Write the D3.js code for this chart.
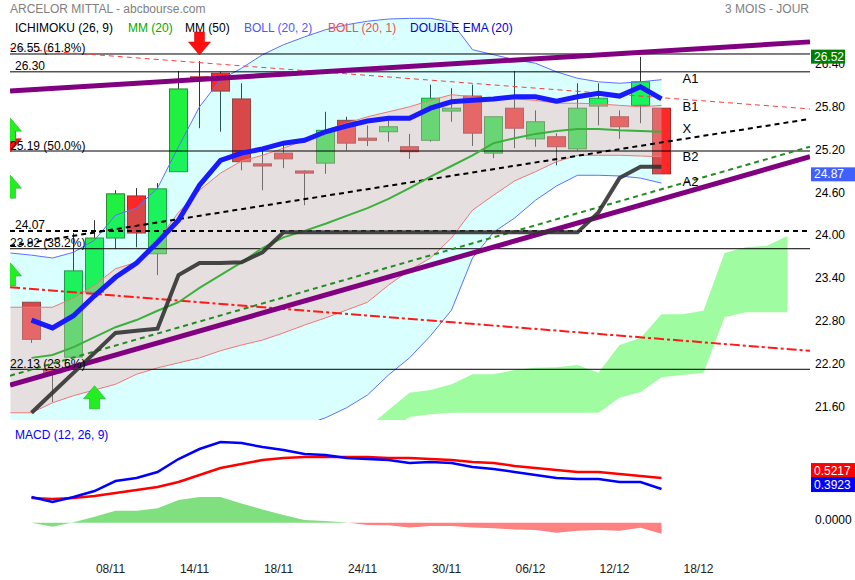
<!DOCTYPE html>
<html><head><meta charset="utf-8">
<script src="https://cdn.jsdelivr.net/npm/d3@7"></script>
<style>body{margin:0;background:#fff}svg{display:block;font-family:'Liberation Sans',Arial,sans-serif}</style>
</head><body><svg id="c" width="855" height="580"></svg>
<script>
// ---------- DATA ----------
const opens  = [23.07,22.13,22.30,23.21,23.97,24.56,23.75,24.90,26.23,26.28,25.92,25.01,25.16,24.91,25.02,25.62,25.37,25.46,25.25,25.34,25.75,25.96,25.16,25.79,25.36,25.39,25.22,25.82,25.67,25.83,25.79];
const highs  = [23.07,22.15,24.04,24.22,24.64,24.67,24.74,26.31,26.45,26.30,26.14,25.20,25.30,24.92,25.74,25.67,25.55,25.62,25.43,26.12,26.07,26.12,25.67,26.31,25.76,25.44,26.14,26.14,25.76,26.51,25.79];
const lows   = [22.50,21.67,22.30,23.15,23.82,23.84,23.45,24.90,25.51,25.46,24.92,24.64,24.95,24.43,24.87,25.20,25.26,25.32,25.08,25.32,25.60,25.26,25.09,25.23,25.25,24.99,25.20,25.55,25.36,25.58,24.87];
const closes = [22.55,22.08,23.51,23.97,24.59,24.04,24.66,26.06,26.20,26.03,25.04,24.98,25.08,24.88,25.48,25.30,25.34,25.53,25.18,25.93,25.79,25.44,25.67,25.51,25.60,25.25,25.79,25.93,25.53,26.16,24.87];

const bandStart = -1;
const boll2Up  = [23.76,23.73,23.69,23.77,23.94,24.29,24.39,24.67,25.25,25.81,26.19,26.35,26.54,26.68,26.79,26.89,26.96,27.01,27.04,27.05,27.05,27.00,26.61,26.54,26.47,26.42,26.30,26.21,26.16,26.14,26.16,26.19];
const boll2Low = [20.76,20.84,20.97,21.11,21.22,21.15,21.25,21.22,20.90,20.73,20.72,20.91,21.12,21.29,21.35,21.45,21.59,21.77,22.05,22.29,22.60,22.96,23.69,24.05,24.25,24.50,24.70,24.85,24.85,24.84,24.81,24.74];
const boll1Up  = [23.00,23.00,23.00,23.13,23.31,23.54,23.63,23.94,24.33,24.64,24.88,25.05,25.13,25.23,25.34,25.48,25.58,25.67,25.74,25.81,25.90,25.98,25.95,25.93,25.92,25.90,25.86,25.86,25.85,25.83,25.81,25.83];
const boll1Low = [21.52,21.52,21.66,21.76,21.84,21.92,22.06,22.15,22.22,22.29,22.39,22.47,22.54,22.64,22.75,22.85,22.96,23.07,23.31,23.52,23.69,23.97,24.36,24.57,24.77,24.90,25.04,25.13,25.13,25.13,25.12,25.11];

const mm20 = [22.29,22.33,22.44,22.58,22.72,22.82,22.95,23.07,23.27,23.45,23.63,23.83,23.98,24.07,24.17,24.28,24.39,24.52,24.67,24.83,24.98,25.13,25.30,25.37,25.43,25.47,25.50,25.50,25.48,25.47,25.46];
const dema = [22.82,22.71,22.88,23.16,23.42,23.62,23.91,24.22,24.71,25.06,25.16,25.22,25.30,25.34,25.46,25.54,25.61,25.65,25.65,25.79,25.88,25.90,25.92,25.95,25.95,25.89,25.95,26.00,25.96,26.09,25.92];
const ichiLine = [21.52,21.80,22.08,22.36,22.64,22.67,22.70,23.45,23.62,23.62,23.63,23.77,24.05,24.05,24.05,24.05,24.05,24.05,24.05,24.05,24.05,24.05,24.05,24.05,24.05,24.05,24.05,24.33,24.81,24.97,24.97];

const cloudStart = 16;
const cloudA = [21.31,21.56,21.80,21.84,21.92,22.06,22.06,22.12,22.15,22.16,22.19,22.08,22.47,22.57,22.90,22.90,22.95,23.76,23.84,23.86,24.00];
const cloudB = [21.07,21.28,21.46,21.50,21.52,21.52,21.52,21.52,21.52,21.52,21.52,21.52,21.73,21.81,22.02,22.05,22.08,22.86,22.93,22.93,22.93];

const macdLine   = [0.300,0.241,0.300,0.369,0.486,0.521,0.591,0.742,0.859,0.941,0.929,0.882,0.847,0.801,0.789,0.754,0.742,0.731,0.696,0.707,0.696,0.649,0.626,0.591,0.556,0.521,0.509,0.509,0.474,0.474,0.3923];
const signalLine = [0.288,0.276,0.288,0.311,0.346,0.381,0.416,0.474,0.556,0.638,0.684,0.731,0.754,0.766,0.766,0.766,0.766,0.754,0.754,0.742,0.731,0.707,0.696,0.661,0.638,0.614,0.591,0.591,0.568,0.544,0.5217];
const histo      = [0.000,-0.047,0.005,0.070,0.140,0.140,0.167,0.265,0.300,0.300,0.225,0.155,0.090,0.031,0.020,0.003,-0.027,-0.031,-0.055,-0.038,-0.038,-0.055,-0.066,-0.078,-0.085,-0.117,-0.093,-0.085,-0.093,-0.058,-0.128];
const histSplit = 15;

const levelValues = [26.55, 26.30, 25.19, 24.07, 23.82, 22.13];
const levelLabels = ["26.55 (61.8%)", "26.30", "25.19 (50.0%)", "24.07", "23.82 (38.2%)", "22.13 (23.6%)"];

// trend lines: [startIndex, startPrice, endIndex, endPrice]
const trendPurpleTop    = [-1.02, 26.03, 37.07, 26.72];
const trendPurpleBottom = [-1.02, 21.91, 37.07, 25.11];
const trendRedDashed    = [-1.02, 26.63, 37.07, 25.78];
const trendBlackDashed  = [-1.02, 23.86, 37.07, 25.64];
const trendGreenDashed  = [-1.02, 22.04, 37.07, 25.25];
const trendRedDashDot   = [-1.02, 23.28, 37.07, 22.39];

const waveLabels = ["A1", "B1", "X", "B2", "A2"];
const waveValues = [26.21, 25.82, 25.50, 25.11, 24.76];
const waveIndex = 31.0;

const signalIdx   = [-1, -1, -1, -1, 8, 3];
const signalPrice = [25.18, 25.65, 24.85, 23.62, 26.536, 21.90];
const signalDir   = ["down", "up", "up", "up", "down", "up"];

const dateLabels = ["08/11","14/11","18/11","24/11","30/11","06/12","12/12","18/12"];
const dateIdx    = [4, 8, 12, 16, 20, 24, 28, 32];
const priceTicks = [21.60, 22.20, 22.80, 23.40, 24.00, 24.60, 25.20, 25.80, 26.40];
const priceTags  = [26.52, 24.87];
const macdTags   = [0.5217, 0.3923];

const legendItems = ["ICHIMOKU (26, 9)", "MM (20)", "MM (50)", "BOLL (20, 2)", "BOLL (20, 1)", "DOUBLE EMA (20)"];

// ---------- SCALES ----------
const svg = d3.select('#c');
const x  = d3.scaleLinear().domain([0, 30]).range([31.5, 661.5]);
const y  = d3.scaleLinear().domain([21.419, 27.307]).range([420, 0]);
const yM = d3.scaleLinear().domain([-0.435, 1.139]).range([560, 425]);
const PL = 10, PR = 810;

const defs = svg.append('defs');
defs.append('clipPath').attr('id','cm').append('rect').attr('x',PL).attr('y',0).attr('width',PR-PL).attr('height',420);
defs.append('clipPath').attr('id','cd').append('rect').attr('x',PL).attr('y',425).attr('width',PR-PL).attr('height',135);

const main = svg.append('g').attr('clip-path','url(#cm)');

// candles
const candles = d3.range(opens.length).map(i => ({i, o:opens[i], h:highs[i], l:lows[i], c:closes[i]}));
const cg = main.append('g');
cg.selectAll('line').data(candles).join('line')
  .attr('x1', d=>x(d.i)).attr('x2', d=>x(d.i))
  .attr('y1', d=>y(d.h)).attr('y2', d=>y(d.l))
  .attr('stroke','#333').attr('stroke-width',1);
cg.selectAll('rect').data(candles).join('rect')
  .attr('x', d=>x(d.i)-9).attr('width',18)
  .attr('y', d=>y(Math.max(d.o,d.c)))
  .attr('height', d=>Math.max(1.5, Math.abs(y(d.o)-y(d.c))))
  .attr('fill', d=> d.c>=d.o ? '#20f040' : '#ff2828')
  .attr('stroke', d=> d.c>=d.o ? '#2e8a2e' : '#a82828').attr('stroke-width',1);

// bands (translucent overlays)
const bandData = boll2Up.map((v,k)=>({i:k+bandStart, u2:v, l2:boll2Low[k], u1:boll1Up[k], l1:boll1Low[k]}));
main.append('path').datum(bandData)
  .attr('d', d3.area().x(d=>x(d.i)).y0(d=>y(d.l2)).y1(d=>y(d.u2)))
  .attr('fill','rgba(0,255,255,0.15)');
main.append('path').datum(bandData)
  .attr('d', d3.area().x(d=>x(d.i)).y0(d=>y(d.l1)).y1(d=>y(d.u1)))
  .attr('fill','rgba(253,164,166,0.35)');

// ichimoku cloud
const cloudData = cloudA.map((v,k)=>({i:k+cloudStart, a:v, b:cloudB[k]}));
main.append('path').datum(cloudData)
  .attr('d', d3.area().x(d=>x(d.i)).y0(d=>y(d.b)).y1(d=>y(d.a)))
  .attr('fill','#a0fca0');

// band lines
const ln = key => d3.line().x(d=>x(d.i)).y(d=>y(d[key]));
main.append('path').datum(bandData).attr('d', ln('u2')).attr('fill','none').attr('stroke','#5a70ff').attr('stroke-width',1);
main.append('path').datum(bandData).attr('d', ln('l2')).attr('fill','none').attr('stroke','#5a70ff').attr('stroke-width',1);
main.append('path').datum(bandData).attr('d', ln('u1')).attr('fill','none').attr('stroke','#f07878').attr('stroke-width',1);
main.append('path').datum(bandData).attr('d', ln('l1')).attr('fill','none').attr('stroke','#f07878').attr('stroke-width',1);

// horizontal levels
levelValues.forEach((v,k)=>{
  main.append('line').attr('x1',PL).attr('x2',PR).attr('y1',y(v)).attr('y2',y(v))
    .attr('stroke','#000').attr('stroke-width', k===3?2:1)
    .attr('stroke-dasharray', k===3?'5,4':null);
});

// trend lines
function trend(t, color, w, dash){
  main.append('line').attr('x1',x(t[0])).attr('y1',y(t[1])).attr('x2',x(t[2])).attr('y2',y(t[3]))
    .attr('stroke',color).attr('stroke-width',w).attr('stroke-dasharray',dash);
}
trend(trendRedDashed, '#ff3c3c', 1, '5,4');
trend(trendRedDashDot, '#ff1a1a', 2, '10,3,3,3');
trend(trendBlackDashed, '#000', 2, '5,4');
trend(trendGreenDashed, '#228b22', 2, '5,4');
trend(trendPurpleTop, '#800080', 5, null);
trend(trendPurpleBottom, '#800080', 5, null);

// indicator lines
const seq = arr => arr.map((v,i)=>({i, v}));
const lv = d3.line().x(d=>x(d.i)).y(d=>y(d.v));
main.append('path').datum(seq(mm20)).attr('d',lv).attr('fill','none').attr('stroke','#3cb03c').attr('stroke-width',2);
main.append('path').datum(seq(ichiLine)).attr('d',lv).attr('fill','none').attr('stroke','#333').attr('stroke-width',4).attr('stroke-opacity',0.9);
main.append('path').datum(seq(dema)).attr('d',lv).attr('fill','none').attr('stroke','#1a1aff').attr('stroke-width',5);

// arrows
function arrowPath(cx, ty, up){
  const s = up?1:-1, hw=11, hh=13, sw=5, sh=10;
  const b = ty + s*hh, e = ty + s*(hh+sh);
  return `M${cx},${ty}L${cx+hw},${b}L${cx+sw},${b}L${cx+sw},${e}L${cx-sw},${e}L${cx-sw},${b}L${cx-hw},${b}Z`;
}
signalIdx.forEach((si,k)=>{
  const up = signalDir[k]==='up';
  main.append('path').attr('d', arrowPath(x(si), y(signalPrice[k]), up))
    .attr('fill', up?'#22ee22':'#ff1010').attr('stroke', up?'#18a018':'#c00000').attr('stroke-width',0.5);
});

// level labels
const txt = (g,xx,yy,t,col,size,anchor) => g.append('text').attr('x',xx).attr('y',yy).text(t)
  .attr('fill',col).attr('font-size',size||12).attr('text-anchor',anchor||'start');
levelValues.forEach((v,k)=>{
  txt(svg, (k===1||k===3)?15:10, y(v)-1.5, levelLabels[k], '#000');
});
waveLabels.forEach((t,k)=>{
  txt(svg, x(waveIndex), y(waveValues[k])+4.5, t, '#000', 13);
});

// header & legend
txt(svg, 10, 13, 'ARCELOR MITTAL - abcbourse.com', '#808080');
txt(svg, 809, 13, '3 MOIS - JOUR', '#808080', 12, 'end');
const legendX = [15, 128, 185, 244, 328, 410];
const legendC = ['#000', '#00aa00', '#000', '#4a5aff', '#ff4848', '#0000dd'];
legendItems.forEach((t,k)=> txt(svg, legendX[k], 32, t, legendC[k]));

// price axis
const ax = svg.append('g').attr('transform',`translate(815,0)`)
  .call(d3.axisRight(y).tickValues(priceTicks).tickSize(0).tickPadding(0).tickFormat(d3.format('.2f')));
ax.select('.domain').remove();
ax.selectAll('text').attr('font-size',12).attr('font-family',"'Liberation Sans',Arial,sans-serif").attr('fill','#000').attr('dy','0.25em');

// price tags
const tagCol = ['#008000', '#3f5fff'], tagW = [34, 44];
priceTags.forEach((v,k)=>{
  svg.append('rect').attr('x',811).attr('y',y(v)-6.5).attr('width',tagW[k]).attr('height',14).attr('fill',tagCol[k]);
  txt(svg, 814, y(v)+4.5, v.toFixed(2), '#fff');
});

// ---------- MACD ----------
const md = svg.append('g').attr('clip-path','url(#cd)');
const hd = seq(histo);
const ha = d3.area().x(d=>x(d.i)).y0(yM(0)).y1(d=>yM(d.v));
md.append('path').datum(hd.slice(0, histSplit+1)).attr('d',ha).attr('fill','#80e080');
md.append('path').datum(hd.slice(histSplit)).attr('d',ha).attr('fill','#ff8080');
const lm = d3.line().x(d=>x(d.i)).y(d=>yM(d.v));
md.append('path').datum(seq(signalLine)).attr('d',lm).attr('fill','none').attr('stroke','#ff0000').attr('stroke-width',2.5);
md.append('path').datum(seq(macdLine)).attr('d',lm).attr('fill','none').attr('stroke','#0000ff').attr('stroke-width',2.5);

txt(svg, 15, 439, 'MACD (12, 26, 9)', '#0000ff');
txt(svg, 815, yM(0)+1.5, d3.format('.4f')(0), '#000');
const blueC = yM(macdTags[1]) - 4.5;
const redC = Math.min(yM(macdTags[0]) - 4, blueC - 14);
[[macdTags[0], redC, '#ff0000'], [macdTags[1], blueC, '#0000ff']].forEach(([v,c,col])=>{
  svg.append('rect').attr('x',811).attr('y',c-7.5).attr('width',44).attr('height',15).attr('fill',col);
  txt(svg, 814, c+4.5, v.toFixed(4), '#fff');
});

// date labels
dateIdx.forEach((di,k)=> txt(svg, x(di)-5, 573, dateLabels[k], '#222', 12, 'middle'));
</script></body></html>
